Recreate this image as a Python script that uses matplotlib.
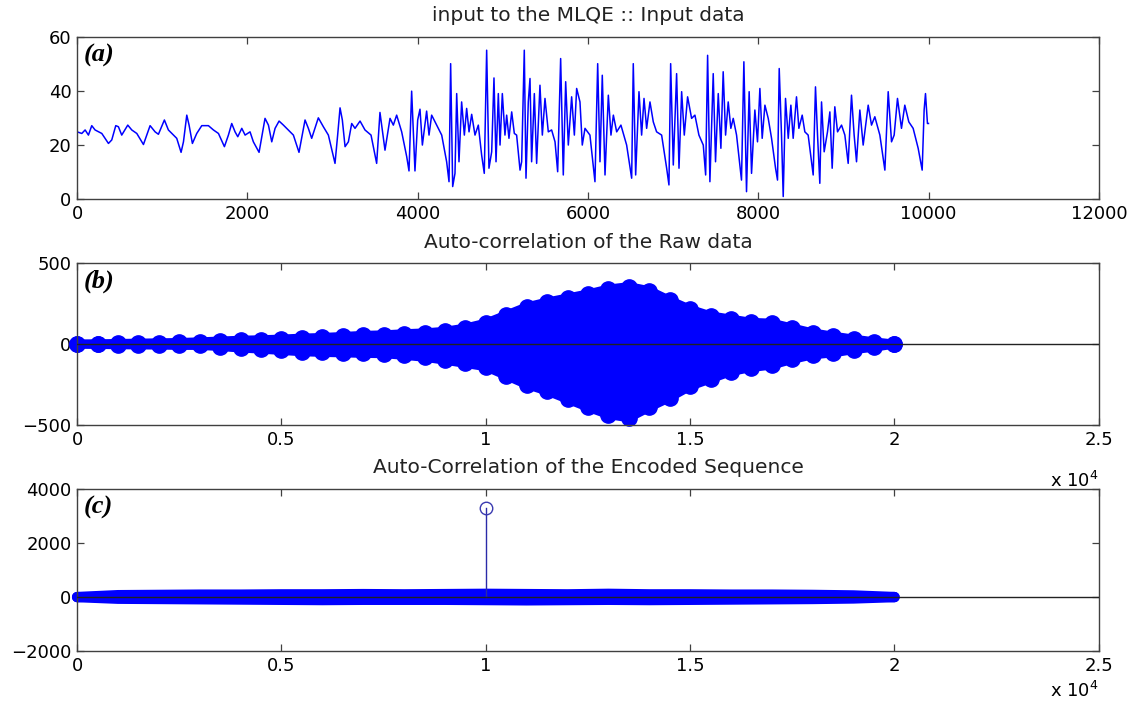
import numpy as np
import matplotlib
matplotlib.use("Agg")
import matplotlib.pyplot as plt

plt.rcParams['font.family'] = ['DejaVu Sans']

# (a) input trace, vertices: sample index / value
a_idx = [0, 55, 94, 133, 172, 211, 290, 368, 407, 454,
         485, 524, 595, 642, 701, 779, 857, 916, 955, 1025,
         1072, 1131, 1170, 1221, 1249, 1288, 1315, 1354, 1405, 1464,
         1542, 1601, 1660, 1730, 1777, 1816, 1855, 1887, 1934, 1973,
         2031, 2070, 2137, 2207, 2247, 2286, 2325, 2372, 2423, 2501,
         2540, 2606, 2677, 2716, 2755, 2833, 2892, 2951, 3029, 3060,
         3088, 3115, 3147, 3186, 3225, 3264, 3323, 3381, 3452, 3518,
         3557, 3616, 3675, 3714, 3753, 3812, 3871, 3898, 3929, 3968,
         4000, 4027, 4055, 4105, 4133, 4164, 4223, 4282, 4340, 4368,
         4387, 4411, 4438, 4458, 4485, 4516, 4548, 4575, 4603, 4634,
         4673, 4712, 4751, 4782, 4810, 4837, 4869, 4896, 4920, 4947,
         4967, 4994, 5025, 5045, 5072, 5104, 5135, 5162, 5202, 5221,
         5252, 5272, 5299, 5319, 5338, 5370, 5397, 5436, 5464, 5495,
         5534, 5573, 5613, 5644, 5679, 5710, 5738, 5769, 5808, 5840,
         5867, 5906, 5933, 5965, 6023, 6082, 6114, 6141, 6168, 6200,
         6239, 6270, 6298, 6337, 6387, 6454, 6513, 6532, 6560, 6599,
         6630, 6658, 6689, 6728, 6767, 6806, 6865, 6924, 6951, 6971,
         7002, 7041, 7069, 7100, 7131, 7170, 7217, 7256, 7303, 7354,
         7382, 7405,
         7432, 7471, 7498, 7530, 7561, 7588, 7616, 7647, 7678, 7706,
         7745, 7803, 7831, 7862, 7893, 7921, 7960, 7991, 8019, 8046,
         8078, 8117, 8156, 8203, 8226, 8246, 8273, 8293, 8320, 8352,
         8383, 8410, 8449, 8477, 8516, 8547, 8586, 8645, 8672, 8696,
         8723, 8743, 8774, 8813, 8841, 8868, 8899, 8931, 8978, 9017,
         9056, 9095, 9126, 9154, 9193, 9232, 9291, 9330, 9369, 9428,
         9487, 9526, 9565, 9596, 9635, 9682, 9721, 9768, 9819, 9878,
         9925, 9948, 9964, 9987, 9999]
a_val = [24.9, 24.3, 25.6, 23.7, 27.2, 25.6, 24.3, 20.6, 21.9, 27.2,
         26.8, 23.7, 27.4, 25.6, 24.3, 20.2, 27.2, 24.9, 24.0, 29.3,
         25.6, 23.7, 22.5, 17.3, 21.2, 31.1, 27.4, 20.6, 24.3, 27.2,
         27.2, 25.6, 24.3, 19.4, 23.7, 28.0, 24.9, 23.1, 26.2, 23.7,
         24.9, 21.2, 17.3, 29.9, 27.4, 21.2, 26.2, 28.9, 27.4, 24.9,
         23.7, 17.3, 29.3, 26.2, 22.5, 30.1, 26.8, 23.7, 13.2, 23.7,
         33.8, 29.3, 19.4, 21.2, 28.0, 26.2, 28.9, 25.6, 23.7, 13.2,
         32.1, 18.1, 29.9, 27.4, 31.1, 24.9, 15.7, 10.4, 40.0, 10.4,
         29.3, 33.3, 20.0, 32.6, 23.7, 31.1, 27.4, 23.7, 13.8, 6.4,
         50.2, 4.6, 9.5, 39.1, 13.8, 36.0, 23.7, 33.6, 24.9, 31.4,
         23.7, 27.4, 16.3, 9.5, 55.2, 11.4, 17.5, 44.9, 13.8, 39.1,
         20.0, 39.1, 23.7, 31.1, 22.5, 32.3, 24.3, 23.7, 10.7, 13.8,
         55.2, 7.7, 36.0, 44.7, 13.8, 39.1, 13.2, 42.2, 23.7, 37.3,
         24.9, 25.6, 21.2, 10.1, 52.1, 8.9, 43.5, 20.0, 37.9, 23.7,
         41.0, 36.0, 20.0, 26.2, 23.7, 6.4, 50.2, 13.8, 45.9, 8.9,
         38.5, 23.7, 31.1, 24.9, 27.4, 20.0, 7.7, 50.2, 8.9, 39.8,
         23.7, 37.3, 26.2, 36.0, 28.6, 24.9, 23.7, 11.4, 5.2, 50.2,
         12.6, 46.5, 11.4, 39.8, 23.7, 37.9, 29.9, 31.1, 23.7, 20.0,
         8.9, 53.3,
         6.4, 46.5, 13.8, 39.1, 18.8, 47.2, 23.7, 36.0, 26.2, 29.9,
         23.7, 7.0, 50.9, 2.7, 39.8, 9.5, 33.0, 21.2, 41.0, 22.5,
         34.8, 29.9, 22.5, 11.4, 7.0, 48.4, 23.7, 0.9, 37.3, 22.5,
         34.8, 22.5, 37.9, 26.2, 31.1, 24.9, 23.7, 8.9, 41.6, 23.7,
         5.8, 36.0, 17.5, 24.9, 32.3, 11.4, 34.2, 24.9, 27.4, 23.7,
         13.2, 38.5, 23.7, 13.8, 33.0, 20.0, 34.8, 27.4, 30.5, 23.7,
         10.7, 39.8, 21.2, 23.7, 37.3, 26.2, 34.8, 28.6, 26.2, 18.8,
         10.7, 33.0, 39.1, 28.0, 28.0]

# (b) autocorrelation of raw data: upper / lower envelope of the stems, every 500 lags
b_lag = list(range(0, 20001, 500))
b_pos = [0, 2, 4, 6, 8, 10, 14, 19, 24, 27,
         31, 37, 41, 47, 54, 57, 64, 69, 79, 99,
         129, 179, 229, 259, 284, 309, 339, 354, 329, 269,
         214, 174, 154, 134, 129, 99, 69, 49, 31, 14, 0]
b_neg = [0, -2, -4, -5, -6, -8, -8, -15, -24, -31,
         -39, -47, -51, -54, -57, -59, -69, -81, -99, -119,
         -139, -194, -249, -289, -339, -389, -434, -454, -389, -329,
         -259, -214, -169, -144, -129, -94, -66, -54, -34, -19, 0]

# (c) autocorrelation of encoded sequence: flat band + one peak at lag 10000
c_lag = list(range(0, 20001, 1000))
c_pos = [0, 70, 80, 90, 90, 100, 100, 110, 100, 110, 120,
         110, 100, 120, 100, 100, 90, 90, 80, 60, 0]
c_neg = [0, -60, -70, -80, -90, -100, -110, -100, -100, -100, -110,
         -120, -110, -100, -110, -100, -90, -80, -70, -50, 0]
c_peak_lag = 10000
c_peak_val = 3300

BLUE = '#0000ff'
SPINE = '#404040'
FS = 13

fig = plt.figure(figsize=(11.34, 7.03), dpi=100)
ax_a = fig.add_axes([0.068, 0.717, 0.901, 0.230])
ax_b = fig.add_axes([0.068, 0.395, 0.901, 0.231])
ax_c = fig.add_axes([0.068, 0.074, 0.901, 0.230])


def style(ax):
    for s in ax.spines.values():
        s.set_color(SPINE)
        s.set_linewidth(1.0)
    ax.tick_params(direction='in', top=True, right=True, length=5, width=0.9,
                   color=SPINE, labelsize=FS, pad=4)


# (a)
ax_a.plot(a_idx, a_val, color=BLUE, lw=1.1)
ax_a.set_xlim(0, 12000)
ax_a.set_ylim(0, 60)
ax_a.set_xticks([0, 2000, 4000, 6000, 8000, 10000, 12000])
ax_a.set_yticks([0, 20, 40, 60])
ax_a.text(0.5, 1.135, 'input to the MLQE :: Input data', transform=ax_a.transAxes,
          ha='center', va='center', fontsize=14.5, color='#222222')

# (b)
ax_b.fill_between(b_lag, b_neg, b_pos, color=BLUE, lw=0)
for env in (b_pos, b_neg):
    ax_b.plot(b_lag, env, color=BLUE, lw=6.5, solid_capstyle='round', clip_on=False)
    ax_b.plot(b_lag, env, 'o', color=BLUE, ms=11, clip_on=False)
ax_b.axhline(0, color='#222222', lw=1.0, zorder=5)
ax_b.set_xlim(0, 25000)
ax_b.set_ylim(-500, 500)
ax_b.set_yticks([-500, 0, 500])
ax_b.text(0.5, 1.125, 'Auto-correlation of the Raw data', transform=ax_b.transAxes,
          ha='center', va='center', fontsize=14.5, color='#222222')

# (c)
ax_c.fill_between(c_lag, c_neg, c_pos, color=BLUE, lw=0)
for env in (c_pos, c_neg):
    ax_c.plot(c_lag, env, color=BLUE, lw=7.5, solid_capstyle='round', clip_on=False)
ax_c.plot([c_peak_lag, c_peak_lag], [0, c_peak_val], color='#2a2aa8', lw=1.0)
ax_c.plot([c_peak_lag], [c_peak_val], 'o', mfc='none', mec='#3a3ab0', mew=1.0, ms=9)
ax_c.axhline(0, color='#222222', lw=1.0, zorder=5)
ax_c.set_xlim(0, 25000)
ax_c.set_ylim(-2000, 4000)
ax_c.set_yticks([-2000, 0, 2000, 4000])
ax_c.text(0.5, 1.135, 'Auto-Correlation of the Encoded Sequence', transform=ax_c.transAxes,
          ha='center', va='center', fontsize=14.5, color='#222222')

for ax, ypos in ((ax_b, -0.34), (ax_c, -0.245)):
    ax.set_xticks([0, 5000, 10000, 15000, 20000, 25000])
    ax.set_xticklabels(['0', '0.5', '1', '1.5', '2', '2.5'])
    ax.text(1.0, ypos, r'x 10$^{4}$', transform=ax.transAxes,
            ha='right', va='center', fontsize=FS)

for ax, lab in ((ax_a, '(a)'), (ax_b, '(b)'), (ax_c, '(c)')):
    style(ax)
    ax.text(0.006, 0.885, lab, transform=ax.transAxes, ha='left', va='center',
            fontsize=19, fontweight='bold', fontstyle='italic',
            family='Liberation Serif')

fig.savefig('out.png', dpi=100)
